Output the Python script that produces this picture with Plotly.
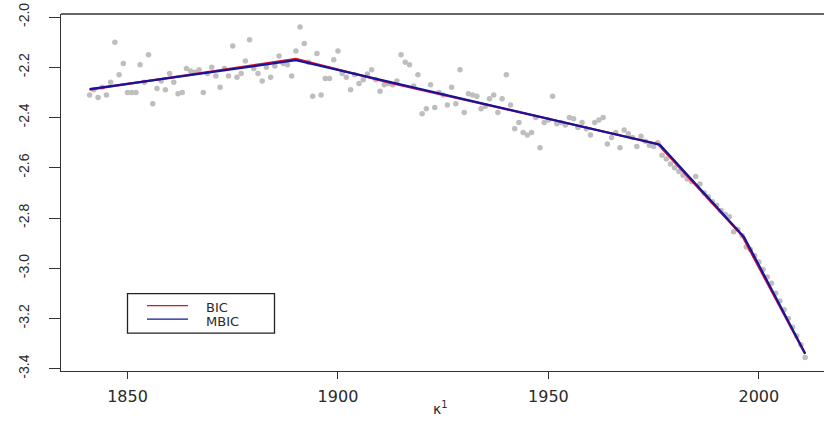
import plotly.graph_objects as go

# ---------------- data ----------------
years = list(range(1841, 2012))
kappa = [
    -2.31, -2.29, -2.32, -2.28, -2.31, -2.26, -2.10, -2.23, -2.185, -2.30,   # 1841-1850
    -2.30, -2.30, -2.19, -2.26, -2.15, -2.345, -2.285, -2.255, -2.29, -2.225,  # 1851-1860
    -2.26, -2.305, -2.30, -2.205, -2.215, -2.22, -2.21, -2.30, -2.225, -2.20,  # 1861-1870
    -2.235, -2.28, -2.205, -2.235, -2.115, -2.24, -2.225, -2.175, -2.09, -2.205,  # 1871-1880
    -2.225, -2.255, -2.20, -2.24, -2.195, -2.155, -2.185, -2.19, -2.235, -2.135,  # 1881-1890
    -2.04, -2.105, -2.18, -2.315, -2.145, -2.31, -2.245, -2.245, -2.17, -2.135,  # 1891-1900
    -2.225, -2.24, -2.29, -2.23, -2.265, -2.25, -2.227, -2.21, -2.25, -2.295,  # 1901-1910
    -2.27, -2.265, -2.27, -2.255, -2.15, -2.18, -2.19, -2.275, -2.23, -2.385,  # 1911-1920
    -2.365, -2.27, -2.36, -2.30, -2.31, -2.35, -2.28, -2.345, -2.21, -2.38,  # 1921-1930
    -2.305, -2.31, -2.315, -2.365, -2.355, -2.325, -2.31, -2.38, -2.325, -2.23,  # 1931-1940
    -2.35, -2.445, -2.42, -2.46, -2.47, -2.46, -2.40, -2.52, -2.42, -2.41,  # 1941-1950
    -2.315, -2.425, -2.42, -2.43, -2.40, -2.405, -2.44, -2.42, -2.445, -2.47,  # 1951-1960
    -2.42, -2.41, -2.40, -2.505, -2.48, -2.46, -2.52, -2.45, -2.465, -2.48,  # 1961-1970
    -2.515, -2.475, -2.495, -2.51, -2.515, -2.50, -2.55, -2.565, -2.585, -2.60,  # 1971-1980
    -2.615, -2.63, -2.645, -2.655, -2.635, -2.665, -2.70, -2.715, -2.735, -2.75,  # 1981-1990
    -2.77, -2.785, -2.795, -2.855, -2.845, -2.87, -2.915, -2.925, -2.95, -2.975,  # 1991-2000
    -3.005, -3.035, -3.06, -3.10, -3.13, -3.165, -3.20, -3.235, -3.27, -3.305,  # 2001-2010
    -3.355,  # 2011
]

# piecewise-linear fits (breakpoints)
bic_years = [1841, 1868, 1890, 1912, 1976, 1996, 2011]
bic_vals = [-2.289, -2.223, -2.167, -2.260, -2.505, -2.870, -3.341]
mbic_years = [1841, 1890, 1976.5, 1996.5, 2011]
mbic_vals = [-2.287, -2.172, -2.508, -2.876, -3.339]

x_ticks = [1850, 1900, 1950, 2000]
y_ticks = [-3.4, -3.2, -3.0, -2.8, -2.6, -2.4, -2.2, -2.0]
y_ticktext = ["-3.4", "-3.2", "-3.0", "-2.8", "-2.6", "-2.4", "-2.2", "-2.0"]
legend_labels = ["BIC", "MBIC"]
x_title = "κ<sup>1</sup>"

RED = "#E0102E"
BLUE = "#14149C"
GRAY = "#BEBEBE"
AXIS = "#333333"
TXT = "#2a2a2a"
FONT = "DejaVu Sans, Arial, sans-serif"
FONT_Y = "Liberation Sans, Arial, sans-serif"

fig = go.Figure()
fig.add_trace(go.Scatter(x=years, y=kappa, mode="markers",
                         marker=dict(color=GRAY, size=5.5, line=dict(width=0)),
                         showlegend=False, hoverinfo="x+y"))
fig.add_trace(go.Scatter(x=bic_years, y=bic_vals, mode="lines", name=legend_labels[0],
                         line=dict(color=RED, width=2.2), showlegend=False))
fig.add_trace(go.Scatter(x=mbic_years, y=mbic_vals, mode="lines", name=legend_labels[1],
                         line=dict(color=BLUE, width=2.2), showlegend=False))

# page geometry (body margin removed in the page, so figure sits at 0,0)
W, H = 825, 432
# plot area in page pixels
L, R, T, B = 61, 824, 14, 371.5


def px(xp):
    return (xp - L) / (R - L)


def py(yp):
    return (B - yp) / (B - T)


# manual legend box (R style) + top frame line
shapes = [
    dict(type="line", xref="paper", yref="paper", x0=0, x1=1, y0=1, y1=1,
         line=dict(color=AXIS, width=1.3), layer="above"),
    dict(type="rect", xref="paper", yref="paper",
         x0=px(127.5), x1=px(274.5), y0=py(333.5), y1=py(294),
         line=dict(color="#222222", width=1.3), fillcolor="white", layer="above"),
    dict(type="line", xref="paper", yref="paper",
         x0=px(147), x1=px(188), y0=py(306), y1=py(306),
         line=dict(color=RED, width=1.2), layer="above"),
    dict(type="line", xref="paper", yref="paper",
         x0=px(147), x1=px(188), y0=py(319.5), y1=py(319.5),
         line=dict(color=BLUE, width=1.2), layer="above"),
]
annotations = [
    dict(text=legend_labels[0], xref="paper", yref="paper", x=px(205), y=py(308),
         xanchor="left", yanchor="middle", showarrow=False, borderpad=0,
         font=dict(family=FONT, size=13, color=TXT)),
    dict(text=legend_labels[1], xref="paper", yref="paper", x=px(205), y=py(321.5),
         xanchor="left", yanchor="middle", showarrow=False, borderpad=0,
         font=dict(family=FONT, size=13, color=TXT)),
    dict(text=x_title, xref="paper", yref="paper", x=px(440), y=py(409),
         xanchor="center", yanchor="middle", showarrow=False,
         font=dict(family=FONT, size=14, color=TXT)),
]

fig.update_layout(
    width=W, height=H,
    margin=dict(l=L, r=W - R, t=T, b=H - B),
    paper_bgcolor="white", plot_bgcolor="white",
    font=dict(family=FONT, size=15, color=TXT),
    shapes=shapes, annotations=annotations,
    showlegend=False,
)
fig.update_xaxes(
    range=[1834.2, 1834.2 + (R - L) / 4.209],
    tickvals=x_ticks, ticks="outside", ticklen=7, tickcolor=AXIS,
    tickfont=dict(family=FONT, size=16, color=TXT),
    showline=True, linecolor=AXIS, linewidth=1.3, mirror=False,
    showgrid=False, zeroline=False, automargin=False,
    ticklabelstandoff=4, ticklabeloverflow="allow",
)
fig.update_yaxes(
    range=[-3.409, -1.988],
    tickvals=y_ticks, ticktext=y_ticktext, tickangle=-90,
    tickfont=dict(family=FONT_Y, size=14, color=TXT),
    ticks="outside", ticklen=11, tickcolor=AXIS,
    showline=True, linecolor=AXIS, linewidth=1.3, mirror=False,
    showgrid=False, zeroline=False, automargin=False,
    ticklabelstandoff=14, ticklabeloverflow="allow",
)

fig.write_html(
    "out.html",
    config={"displayModeBar": False},
    post_script="document.body.style.margin='0px';document.body.style.overflow='hidden';",
)
